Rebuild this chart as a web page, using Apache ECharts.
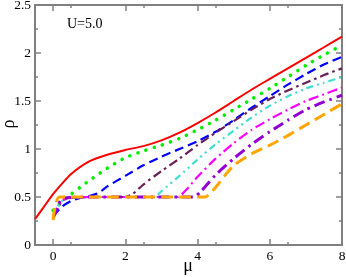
<!DOCTYPE html>
<html>
<head>
<meta charset="utf-8">
<script src="https://cdn.jsdelivr.net/npm/echarts@6/dist/echarts.min.js"></script>
<style>html,body{margin:0;padding:0;background:#fff}#c{width:346px;height:277px}</style>
</head>
<body>
<div id="c"></div>
<script>
var xTicks = [0, 2, 4, 6, 8];
var yTicks = [0, 0.5, 1, 1.5, 2, 2.5];
var annotation = 'U=5.0';
var xName = 'μ';
var yName = 'ρ';

var red = [[-0.5,0.27],[-0.25,0.40],[0,0.53],[0.25,0.64],[0.5,0.74],[1,0.87],[1.5,0.94],[2,0.99],[2.5,1.03],[3,1.09],[3.5,1.17],[4,1.27],[4.5,1.38],[5,1.50],[5.5,1.62],[6,1.73],[6.5,1.84],[7,1.95],[7.5,2.06],[8,2.17]];
var green = [[0,0.36],[0.25,0.45],[0.5,0.53],[0.75,0.60],[1,0.67],[1.5,0.80],[2,0.91],[2.5,0.98],[3,1.04],[3.5,1.11],[4,1.20],[4.5,1.30],[5,1.41],[5.5,1.52],[6,1.63],[6.5,1.75],[7,1.87],[7.5,1.98],[8,2.08]];
var blue = [[0,0.30],[0.25,0.40],[0.5,0.46],[0.75,0.49],[1,0.51],[1.25,0.54],[1.5,0.61],[2,0.72],[2.5,0.83],[3,0.92],[3.5,1.00],[4,1.08],[4.5,1.18],[5,1.30],[5.5,1.43],[6,1.55],[6.5,1.67],[7,1.78],[7.5,1.88],[8,1.96]];
var maroon = [[0,0.30],[0.1,0.38],[0.25,0.46],[0.4,0.49],[1,0.50],[2,0.50],[2.2,0.53],[2.5,0.63],[3,0.77],[3.5,0.90],[4,1.04],[4.5,1.17],[5,1.29],[5.5,1.41],[6,1.52],[6.5,1.61],[7,1.69],[7.5,1.77],[8,1.84]];
var cyan = [[0,0.30],[0.1,0.38],[0.25,0.46],[0.4,0.49],[1,0.50],[2.8,0.50],[3,0.56],[3.5,0.72],[4,0.89],[4.5,1.05],[5,1.19],[5.5,1.33],[6,1.45],[6.5,1.55],[7,1.63],[7.5,1.69],[8,1.75]];
var magenta = [[0,0.29],[0.1,0.37],[0.25,0.46],[0.4,0.49],[1,0.50],[3.45,0.50],[3.7,0.58],[4,0.71],[4.5,0.90],[5,1.06],[5.5,1.20],[6,1.31],[6.5,1.41],[7,1.50],[7.5,1.57],[8,1.64]];
var purple = [[0,0.28],[0.1,0.36],[0.2,0.46],[0.35,0.49],[1,0.50],[3.9,0.50],[4.1,0.56],[4.5,0.73],[5,0.90],[5.5,1.05],[6,1.18],[6.5,1.30],[7,1.41],[7.5,1.49],[8,1.56]];
var orange = [[0,0.26],[0.18,0.50],[4.2,0.50],[4.3,0.52],[4.5,0.60],[4.75,0.72],[5,0.83],[5.5,0.95],[6,1.04],[6.5,1.14],[7,1.25],[7.5,1.36],[8,1.47]];

var chart = echarts.init(document.getElementById('c'), null, {renderer: 'canvas'});
var axisColor = '#808080';
var font = 'Liberation Serif';

function mkSeries(data, color, width, type, cap) {
  return {
    type: 'line', data: data, showSymbol: false, symbol: 'none',
    smooth: 0.2, animation: false, clip: true,
    lineStyle: {color: color, width: width, type: type, cap: cap || 'butt', join: 'round'},
    z: 3
  };
}

function xAxisBase(pos, showLabel) {
  return {
    type: 'value', position: pos, min: -0.5, max: 8, interval: 2,
    axisLine: {show: true, onZero: false, lineStyle: {color: axisColor, width: 2}},
    axisTick: {show: true, inside: true, length: 6, lineStyle: {color: axisColor, width: 1.5},
      customValues: xTicks},
    minorTick: {show: true, splitNumber: 2, length: 3, lineStyle: {color: axisColor, width: 1.5}},
    axisLabel: {show: showLabel, color: '#000', fontFamily: font, fontSize: 13.5, margin: 4,
      customValues: xTicks, formatter: function(v){return String(v);}},
    splitLine: {show: false}
  };
}
function yAxisBase(pos, showLabel) {
  return {
    type: 'value', position: pos, min: 0, max: 2.5, interval: 0.5,
    axisLine: {show: true, onZero: false, lineStyle: {color: axisColor, width: 2}},
    axisTick: {show: true, inside: true, length: 6, lineStyle: {color: axisColor, width: 1.5}},
    minorTick: {show: true, splitNumber: 2, length: 3, lineStyle: {color: axisColor, width: 1.5}},
    axisLabel: {show: showLabel, color: '#000', fontFamily: font, fontSize: 13.5, margin: 4,
      formatter: function(v){return String(v);}},
    splitLine: {show: false}
  };
}

var option = {
  animation: false,
  backgroundColor: '#fff',
  grid: {left: 35, right: 4, top: 5, bottom: 32, containLabel: false, outerBoundsMode: 'none'},
  xAxis: [xAxisBase('bottom', true), xAxisBase('top', false)],
  yAxis: [yAxisBase('left', true), yAxisBase('right', false)],
  graphic: [
    {type: 'text', left: 67, top: 17, style: {text: annotation, fill: '#000', font: '14px "Liberation Serif"'}},
    {type: 'text', x: 188, y: 266, style: {text: xName, fill: '#000', font: '18px "Liberation Serif"', align: 'center', verticalAlign: 'middle'}},
    {type: 'text', x: 9, y: 124, rotation: Math.PI / 2, style: {text: yName, fill: '#000', font: '18px "Liberation Serif"', align: 'center', verticalAlign: 'middle'}}
  ],
  series: [
    mkSeries(red, '#ff0000', 2, 'solid'),
    mkSeries(green, '#00ee00', 3.5, [0.1, 8.5], 'round'),
    mkSeries(blue, '#0000ff', 2.2, [9, 5]),
    mkSeries(maroon, '#6b1f5a', 2.2, [9, 4, 2.5, 4]),
    mkSeries(cyan, '#40e0d0', 2.2, [7, 4, 2, 4, 2, 4]),
    mkSeries(magenta, '#ff00ff', 2.2, [10, 4, 2, 4]),
    mkSeries(purple, '#9400d3', 3, [11, 5, 2.5, 5]),
    mkSeries(orange, '#ffa500', 3, [12, 6])
  ]
};
chart.setOption(option);
</script>
</body>
</html>
